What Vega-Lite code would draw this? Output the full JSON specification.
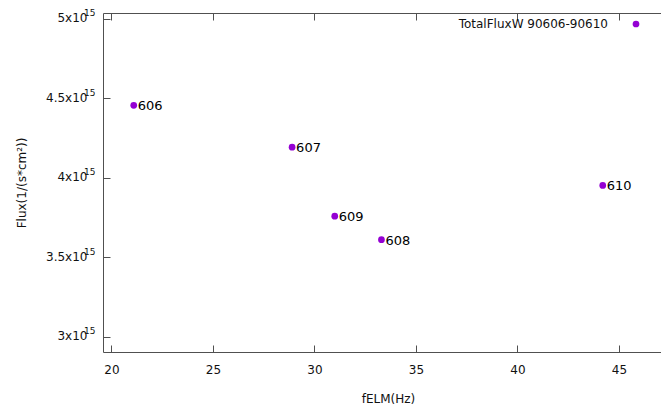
{
  "$schema": "https://vega.github.io/schema/vega-lite/v6.json",
  "width": 570,
  "height": 339,
  "autosize": {"type": "none"},
  "padding": {"left": 103, "top": 13, "right": 0, "bottom": 57},
  "background": "white",
  "config": {
    "view": {"stroke": null},
    "font": "DejaVu Sans",
    "axis": {
      "grid": false,
      "domainColor": "#505050",
      "tickColor": "#505050",
      "tickSize": -7,
      "labelColor": "#111111",
      "titleColor": "#111111",
      "labelFont": "DejaVu Sans",
      "titleFont": "DejaVu Sans",
      "labelFontSize": 12,
      "titleFontSize": 12,
      "titleFontWeight": "normal"
    }
  },
  "resolve": {"axis": {"y": "independent"}},
  "data": {
    "values": [
      {"fELM": 21.1, "flux": 4.455e15, "shot": "606", "series": "TotalFluxW 90606-90610"},
      {"fELM": 28.9, "flux": 4.192e15, "shot": "607", "series": "TotalFluxW 90606-90610"},
      {"fELM": 33.3, "flux": 3.61e15, "shot": "608", "series": "TotalFluxW 90606-90610"},
      {"fELM": 31.0, "flux": 3.758e15, "shot": "609", "series": "TotalFluxW 90606-90610"},
      {"fELM": 44.2, "flux": 3.951e15, "shot": "610", "series": "TotalFluxW 90606-90610"}
    ]
  },
  "layer": [
    {
      "mark": {"type": "point", "filled": true, "size": 45, "opacity": 1},
      "encoding": {
        "x": {
          "field": "fELM",
          "type": "quantitative",
          "scale": {"domain": [19.586, 47.66], "nice": false, "zero": false},
          "axis": {
            "orient": "bottom",
            "values": [20, 25, 30, 35, 40, 45],
            "labelPadding": 19,
            "title": "fELM(Hz)",
            "titlePadding": 18
          }
        },
        "y": {
          "field": "flux",
          "type": "quantitative",
          "scale": {"domain": [2.9033e15, 5.0358e15], "nice": false, "zero": false},
          "axis": {
            "orient": "left",
            "values": [3e15, 3.5e15, 4e15, 4.5e15, 5e15],
            "labelExpr": "format(datum.value / 1e15, '~g') + 'x10'",
            "labelPadding": 23,
            "labelOffset": -1,
            "title": "Flux(1/(s*cm²))",
            "titlePadding": 17
          }
        },
        "color": {
          "field": "series",
          "type": "nominal",
          "scale": {"range": ["#9400D3"]},
          "legend": {
            "orient": "none",
            "legendX": 527,
            "legendY": 5,
            "title": null,
            "padding": 0,
            "symbolSize": 45,
            "symbolType": "circle",
            "labelAlign": "right",
            "labelOffset": -34,
            "labelFont": "DejaVu Sans",
            "labelFontSize": 12,
            "labelColor": "#111111"
          }
        }
      }
    },
    {
      "mark": {"type": "point", "opacity": 0},
      "encoding": {
        "x": {"field": "fELM", "type": "quantitative", "axis": null},
        "y": {
          "field": "flux",
          "type": "quantitative",
          "axis": {
            "orient": "left",
            "values": [3e15, 3.5e15, 4e15, 4.5e15, 5e15],
            "labelExpr": "'15'",
            "labelFontSize": 9,
            "labelPadding": 8,
            "labelOffset": -6,
            "ticks": false,
            "domain": false,
            "title": null
          }
        }
      }
    },
    {
      "mark": {"type": "text", "align": "left", "baseline": "middle", "dx": 4, "dy": 1, "fontSize": 13, "font": "DejaVu Sans", "color": "#000000"},
      "encoding": {
        "x": {"field": "fELM", "type": "quantitative", "axis": null},
        "y": {"field": "flux", "type": "quantitative", "axis": null},
        "text": {"field": "shot"}
      }
    },
    {
      "mark": {"type": "point", "opacity": 0},
      "encoding": {
        "x": {
          "field": "fELM",
          "type": "quantitative",
          "axis": {"orient": "top", "values": [20, 25, 30, 35, 40, 45], "labels": false, "title": null}
        },
        "y": {"field": "flux", "type": "quantitative", "axis": null}
      }
    }
  ]
}
